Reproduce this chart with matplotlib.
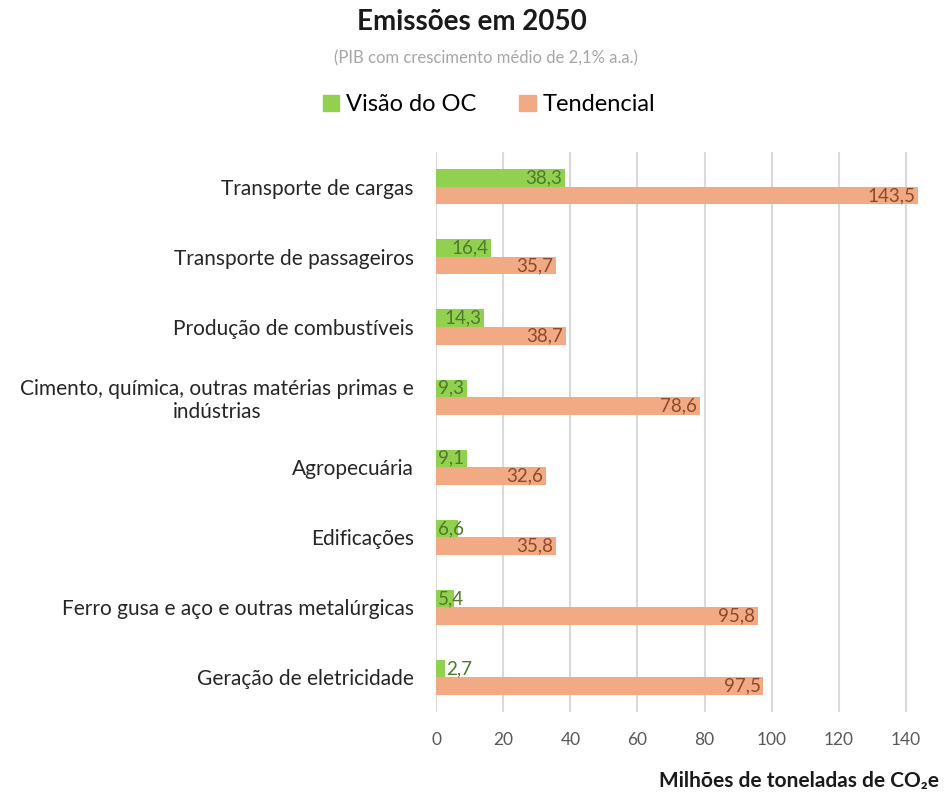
import numpy as np
import matplotlib
matplotlib.use("Agg")
from matplotlib import pyplot as plt
from matplotlib.patches import Patch

plt.rcParams['font.family'] = ['Lato', 'DejaVu Sans']

# data
categorias = ["Transporte de cargas",
              "Transporte de passageiros",
              "Produção de combustíveis",
              "Cimento, química, outras matérias primas e\nindústrias",
              "Agropecuária",
              "Edificações",
              "Ferro gusa e aço e outras metalúrgicas",
              "Geração de eletricidade"]
visao_oc = [38.3, 16.4, 14.3, 9.3, 9.1, 6.6, 5.4, 2.7]
tendencial = [143.5, 35.7, 38.7, 78.6, 32.6, 35.8, 95.8, 97.5]
xticks = [0, 20, 40, 60, 80, 100, 120, 140]

verde = '#92D050'
laranja = '#F2AA84'

fig = plt.figure(figsize=(9.44, 7.95), dpi=100)
ax = fig.add_axes([0.462, 0.104, 0.519, 0.705])

y = np.arange(len(categorias))
h = 0.25
ax.barh(y - h/2, visao_oc, height=h, color=verde, zorder=3)
ax.barh(y + h/2, tendencial, height=h, color=laranja, zorder=3)

def fmt(v):
    return ('%.1f' % v).replace('.', ',')

for yi, v in zip(y, visao_oc):
    if v > 12:
        ax.text(v - 0.8, yi - h/2, fmt(v), ha='right', va='center', fontsize=13.5, color='#4F7A28', zorder=4)
    else:
        x = v + 0.4 if v < 4 else 0.6
        ax.text(x, yi - h/2, fmt(v), ha='left', va='center', fontsize=13.5, color='#4F7A28', zorder=4)
for yi, v in zip(y, tendencial):
    ax.text(v - 0.8, yi + h/2, fmt(v), ha='right', va='center', fontsize=13.5, color='#8C4A2A', zorder=4)

ax.set_ylim(len(categorias) - 0.5, -0.5)
ax.set_xlim(0, 146)
ax.set_yticks(y)
ax.set_yticklabels(categorias, fontsize=15, color='#262626', multialignment='center')
ax.set_xticks(xticks)
ax.set_xticklabels([str(t) for t in xticks], fontsize=12.5, color='#595959')
ax.tick_params(axis='y', length=0, pad=16)
ax.tick_params(axis='x', length=0, pad=14)
ax.grid(axis='x', color='#D9D9D9', lw=1.5, zorder=0)
for s in ax.spines.values():
    s.set_visible(False)

fig.text(0.5, 0.972, "Emissões em 2050", ha='center', va='center', fontsize=20, fontweight='bold', color='#1a1a1a')
fig.text(0.515, 0.927, "(PIB com crescimento médio de 2,1% a.a.)", ha='center', va='center', fontsize=12, color='#A6A6A6')

handles = [Patch(color=verde, label='Visão do OC'), Patch(color=laranja, label='Tendencial')]
fig.legend(handles=handles, loc='center', bbox_to_anchor=(0.518, 0.868), ncol=2, frameon=False,
           fontsize=17, handlelength=0.7, handleheight=0.7, handletextpad=0.3, columnspacing=1.8)

fig.text(0.995, 0.018, "Milhões de toneladas de CO₂e", ha='right', va='center', fontsize=15, fontweight='bold', color='#1a1a1a')

fig.savefig('out.png', dpi=100)
